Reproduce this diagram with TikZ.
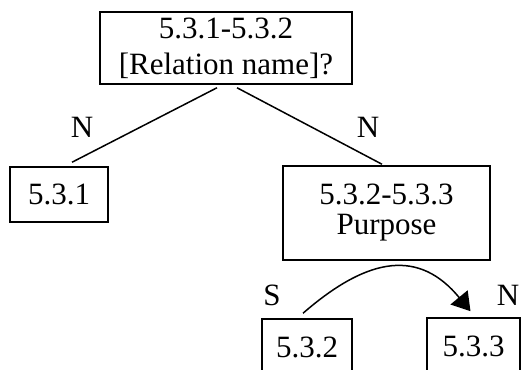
\documentclass[tikz,border=0pt]{standalone}
\usepackage{fontspec}
\setmainfont{Liberation Serif}
\usetikzlibrary{arrows.meta}
\begin{document}
\begin{tikzpicture}[x=1pt,y=1pt,
  every node/.style={font=\fontsize{31}{36}\selectfont},
  box/.style={draw, line width=1.5pt, inner sep=0pt, align=center},
  edge/.style={line width=1.5pt},
  lbl/.style={inner sep=0pt}]
\useasboundingbox (0,0) rectangle (521,-369);
\clip (0,0) rectangle (521,-369);

% tree nodes
\node[box, minimum width=252, minimum height=72] (rel) at (226,-48) {5.3.1-5.3.2\\{[}Relation name{]}?};
\node[box, minimum width=98, minimum height=55] (a) at (59,-194.5) {5.3.1};
\node[box, minimum width=207, minimum height=94] (b) at (386.5,-213) {5.3.2-5.3.3\\[-6pt]Purpose};
\node[box, minimum width=90, minimum height=56] (c) at (307,-347) {5.3.2};
\node[box, minimum width=93, minimum height=56] (d) at (473.5,-346) {5.3.3};

% nuclearity labels
\node[lbl] (nl) at (82,-127) {N};
\node[lbl] (nr) at (368,-127) {N};
\node[lbl] (s) at (272,-295) {S};
\node[lbl] (nn) at (508,-295) {N};

% connectors
\draw[edge] ([xshift=-9pt,yshift=-3pt]rel.south) -- ([xshift=13pt,yshift=4pt]a.north);
\draw[edge] ([xshift=11pt,yshift=-3pt]rel.south) -- ([xshift=-4.5pt,yshift=1pt]b.north);
\draw[edge, -{Triangle[length=18pt,width=22pt]}]
  ([xshift=-4pt,yshift=5pt]c.north) .. controls (370,-255) and (420,-250) .. ([xshift=-3pt,yshift=6pt]d.north);
\end{tikzpicture}
\end{document}
